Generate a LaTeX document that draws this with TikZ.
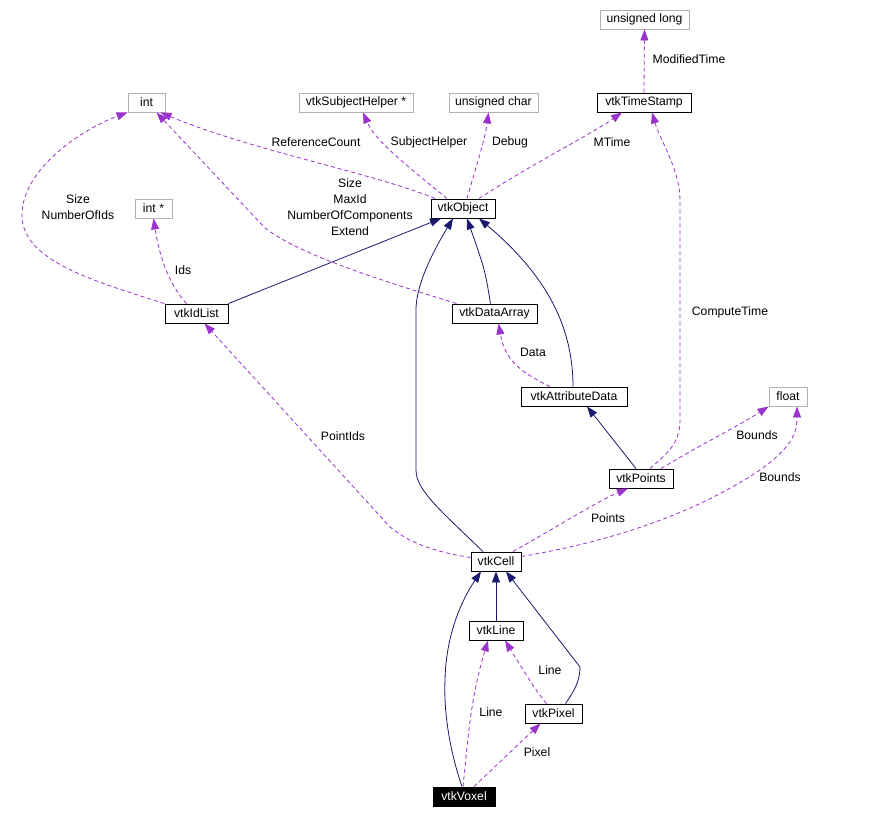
\documentclass[tikz,border=0pt]{standalone}
\usepackage{fontspec}
\setmainfont{Liberation Sans}
\usetikzlibrary{arrows.meta}
\definecolor{usepurple}{HTML}{9A32CD}
\definecolor{inhnavy}{HTML}{191970}
\tikzset{
cls/.style={draw=black,line width=0.9pt,minimum height=19,inner sep=0pt,font=\fontsize{12.2}{13}\selectfont,fill=white},
extcls/.style={cls,draw=black!30},
focuscls/.style={cls,fill=black,text=white},
inh/.style={-{Triangle[length=11pt,width=8pt]},inhnavy,line width=0.8pt},
usage/.style={-{Triangle[length=11pt,width=8pt]},usepurple,line width=0.8pt,dash pattern=on 4pt off 3pt},
lbl/.style={font=\fontsize{12.2}{16}\selectfont,align=center,inner sep=0pt}
}

\begin{document}
\begin{tikzpicture}[x=1pt,y=-1pt]
\useasboundingbox[fill=white] (0,0) rectangle (892,818);
% classes
\node[extcls,minimum width=89] (ulong) at (644.5,19.5) {unsigned long};
\node[cls,minimum width=94] (tstamp) at (644,102.5) {vtkTimeStamp};
\node[extcls,minimum width=89] (uchar) at (493.5,102.5) {unsigned char};
\node[extcls,minimum width=114] (shelper) at (356,102.5) {vtkSubjectHelper *};
\node[extcls,minimum width=37] (int) at (146.5,102.5) {int};
\node[cls,minimum width=64] (obj) at (463,208.5) {vtkObject};
\node[extcls,minimum width=37] (intp) at (153.5,208.5) {int *};
\node[cls,minimum width=63] (idlist) at (196.5,313.5) {vtkIdList};
\node[cls,minimum width=85] (darray) at (494.5,313.5) {vtkDataArray};
\node[cls,minimum width=106] (attr) at (574,396.5) {vtkAttributeData};
\node[extcls,minimum width=38] (float) at (788,396.5) {float};
\node[cls,minimum width=64] (points) at (641,478.5) {vtkPoints};
\node[cls,minimum width=50] (cell) at (496,561.5) {vtkCell};
\node[cls,minimum width=54] (line) at (496,630.5) {vtkLine};
\node[cls,minimum width=57] (pixel) at (553.5,713.5) {vtkPixel};
\node[focuscls,minimum width=62] (voxel) at (464,796.5) {vtkVoxel};
% inheritance
\draw[inh] (idlist.north east) -- ([xshift=-22]obj.south);
\draw[inh] ([xshift=-4]darray.north) .. controls (485,270) .. ([xshift=4]obj.south);
\draw[inh] ([xshift=-1]attr.north) .. controls (573,320) and (540,270) .. ([xshift=16]obj.south);
\draw[inh] ([xshift=-13]cell.north) .. controls (440,510) and (416,490) .. (416,470) -- (416,310) .. controls (416,280) and (440,240) .. ([xshift=-10]obj.south);
\draw[inh] ([xshift=-5]points.north) -- ([xshift=13]attr.south);
\draw[inh] (line.north) -- (cell.south);
\draw[inh] ([xshift=12]pixel.north) .. controls (575,690) and (580,680) .. (580,667) -- ([xshift=10]cell.south);
\draw[inh] ([xshift=-2]voxel.north) .. controls (446,740) and (444,700) .. (445,680) .. controls (446,630) and (465,595) .. ([xshift=-15]cell.south);
% members
\draw[usage] (tstamp.north) -- (ulong.south);
\draw[usage] ([xshift=-28]obj.north) .. controls (380,175) and (250,150) .. ([xshift=14]int.south);
\draw[usage] ([xshift=-16]obj.north) .. controls (400,160) and (375,140) .. ([xshift=7]shelper.south);
\draw[usage] ([xshift=4]obj.north) .. controls (475,170) and (485,140) .. ([xshift=-5]uchar.south);
\draw[usage] ([xshift=16]obj.north) .. controls (530,165) and (590,135) .. ([xshift=-22]tstamp.south);
\draw[usage] (idlist.north west) .. controls (90,280) and (22,260) .. (22,215) .. controls (22,170) and (80,130) .. (int.south west);
\draw[usage] ([xshift=-10]idlist.north) .. controls (170,285) and (160,260) .. (intp.south);
\draw[usage] ([xshift=-38]darray.north) .. controls (380,280) and (300,255) .. (265,228) -- ([xshift=10]int.south);
\draw[usage] ([xshift=-24]attr.north) .. controls (520,372) and (505,360) .. ([xshift=4]darray.south);
\draw[usage] ([xshift=9]points.north) .. controls (665,455) and (680,445) .. (680,420) -- (680,200) .. controls (680,170) and (660,140) .. ([xshift=8]tstamp.south);
\draw[usage] ([xshift=20]points.north) .. controls (700,445) and (740,425) .. (float.south west);
\draw[usage] ([yshift=5]cell.east) .. controls (620,540) and (700,510) .. (760,470) .. controls (795,445) and (797,430) .. ([xshift=9]float.south);
\draw[usage] ([xshift=17]cell.north) .. controls (560,525) and (600,500) .. ([xshift=-13]points.south);
\draw[usage] ([yshift=4]cell.west) .. controls (420,550) and (400,535) .. (390,527) -- ([xshift=8]idlist.south);
\draw[usage] ([xshift=-7]pixel.north) .. controls (535,690) and (520,665) .. ([xshift=9]line.south);
\draw[usage] ([xshift=-1]voxel.north) .. controls (468,740) and (470,700) .. ([xshift=-8]line.south);
\draw[usage] ([xshift=10]voxel.north) -- ([xshift=-13]pixel.south);
% member names
\node[lbl] (lModTime) at (689,59) {ModifiedTime};
\node[lbl] (lRefCount) at (316,142) {ReferenceCount};
\node[lbl] (lSubject) at (429,142) {SubjectHelper};
\node[lbl] (lDebug) at (510,142) {Debug};
\node[lbl] (lMTime) at (612,142) {MTime};
\node[lbl] (lSizeIds) at (78,207) {Size\\NumberOfIds};
\node[lbl] (lIds) at (183,270) {Ids};
\node[lbl] (lArrayInts) at (350,207) {Size\\MaxId\\NumberOfComponents\\Extend};
\node[lbl] (lData) at (533,352) {Data};
\node[lbl] (lCompute) at (730,312) {ComputeTime};
\node[lbl] (lBoundsP) at (757,435) {Bounds};
\node[lbl] (lBoundsC) at (780,477) {Bounds};
\node[lbl] (lPoints) at (608,518) {Points};
\node[lbl] (lPointIds) at (343,436) {PointIds};
\node[lbl] (lLineP) at (550,670) {Line};
\node[lbl] (lLineV) at (491,712) {Line};
\node[lbl] (lPixel) at (537,752) {Pixel};
\end{tikzpicture}
\end{document}
